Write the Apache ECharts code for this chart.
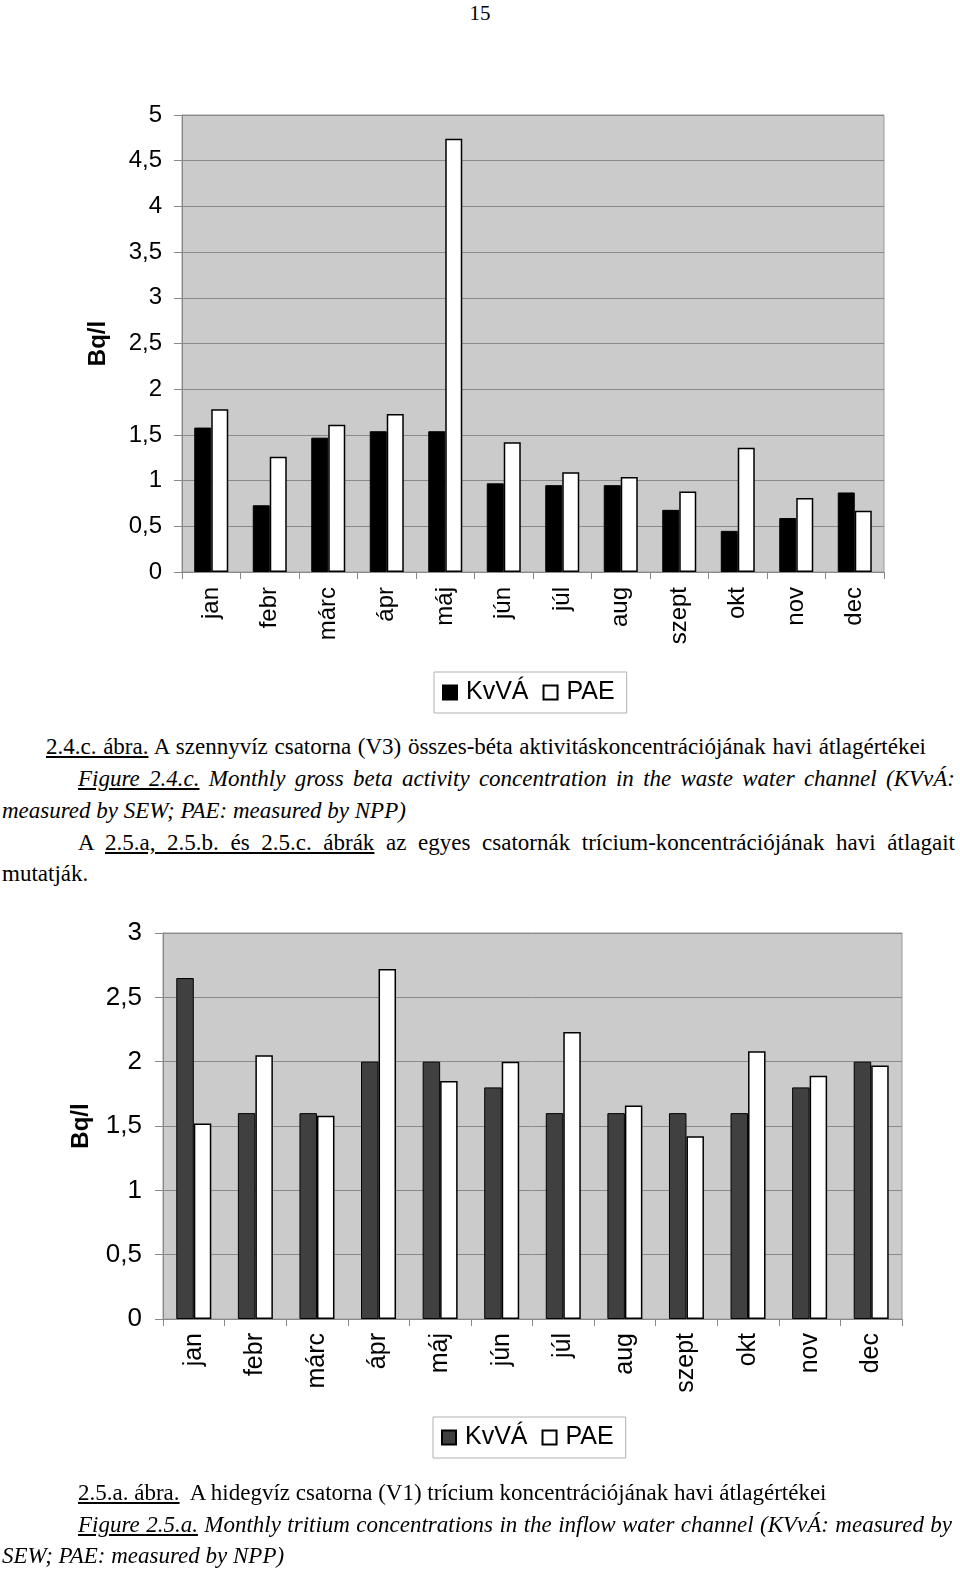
<!DOCTYPE html>
<html>
<head>
<meta charset="utf-8">
<script src="https://cdn.jsdelivr.net/npm/echarts@6/dist/echarts.min.js"></script>
<style>
  html, body { margin: 0; padding: 0; background: #fff; }
  #page { position: relative; width: 960px; height: 1572px; overflow: hidden; }
  .chart { position: absolute; left: 0; width: 960px; }
  .t { position: absolute; font-family: "Liberation Serif", "Times New Roman", serif; font-size: 23px; line-height: 32px; color: #000; white-space: nowrap; }
  .j { white-space: normal; text-align: justify; text-align-last: justify; }
  .i { font-style: italic; }
  u { text-decoration: underline; }
</style>
</head>
<body>
<div id="page">
  <div class="t" style="left:0;width:960px;top:-3px;text-align:center;font-size:21px;">15</div>
  <div id="c1" class="chart" style="top:0;height:730px;"></div>

  <div class="t j" style="left:46px;width:880px;top:731px;"><u>2.4.c. ábra.</u> A szennyvíz csatorna (V3) összes-béta aktivitáskoncentrációjának havi átlagértékei</div>
  <div class="t j i" style="left:78px;width:877px;top:763px;"><u>Figure 2.4.c.</u> Monthly gross beta activity concentration in the waste water channel (KVvÁ:</div>
  <div class="t i" style="left:2px;top:795px;">measured by SEW; PAE: measured by NPP)</div>
  <div class="t j" style="left:78px;width:877px;top:827px;">A <u>2.5.a, 2.5.b. és 2.5.c. ábrák</u> az egyes csatornák trícium-koncentrációjának havi átlagait</div>
  <div class="t" style="left:2px;top:858px;">mutatják.</div>

  <div id="c2" class="chart" style="top:890px;height:590px;"></div>

  <div class="t" style="left:78px;top:1477px;"><u>2.5.a. ábra.</u>&nbsp; A hidegvíz csatorna (V1) trícium koncentrációjának havi átlagértékei</div>
  <div class="t j i" style="left:78px;width:874px;top:1509px;"><u>Figure 2.5.a.</u> Monthly tritium concentrations in the inflow water channel (KVvÁ: measured by</div>
  <div class="t i" style="left:2px;top:1540px;">SEW; PAE: measured by NPP)</div>
</div>
<script>
// ---- data ----
const months = ['jan','febr','márc','ápr','máj','jún','júl','aug','szept','okt','nov','dec'];
const seriesNames = ['KvVÁ','PAE'];
// Figure 2.4.c: gross beta (Bq/l)
const betaKvVA = [1.58, 0.73, 1.47, 1.54, 1.54, 0.97, 0.95, 0.95, 0.68, 0.45, 0.59, 0.87];
const betaPAE  = [1.78, 1.26, 1.61, 1.73, 4.74, 1.42, 1.09, 1.04, 0.88, 1.36, 0.81, 0.67];
// Figure 2.5.a: tritium (Bq/l)
const tritKvVA = [2.65, 1.60, 1.60, 2.00, 2.00, 1.80, 1.60, 1.60, 1.60, 1.60, 1.80, 2.00];
const tritPAE  = [1.52, 2.05, 1.58, 2.72, 1.85, 2.00, 2.23, 1.66, 1.42, 2.08, 1.89, 1.97];
const yTicks1 = ['0','0,5','1','1,5','2','2,5','3','3,5','4','4,5','5'];
const yTicks2 = ['0','0,5','1','1,5','2','2,5','3'];
const yUnit = 'Bq/l';

function build(cfg) {
  const step = 0.5;
  return {
    animation: false,
    textStyle: { fontFamily: 'Liberation Sans, Arial, sans-serif' },
    grid: {
      left: cfg.left, right: cfg.right, top: cfg.top, height: cfg.height,
      show: true, backgroundColor: '#cbcbcb', borderColor: '#9a9a9a', borderWidth: 1
    },
    legend: {
      left: cfg.legLeft, top: cfg.legTop,
      orient: 'horizontal',
      data: seriesNames,
      icon: 'rect', itemWidth: 14, itemHeight: 14, itemGap: 14,
      padding: [8, 12, 8, 8],
      borderColor: '#b0b0b0', borderWidth: 1, backgroundColor: '#fff',
      textStyle: { fontSize: 25, color: '#000', padding: [0, 0, 0, 4], fontFamily: 'Liberation Sans, Arial, sans-serif' }
    },
    xAxis: {
      type: 'category', data: months,
      axisLine: { lineStyle: { color: '#888', width: 1 } },
      axisTick: { show: true, length: 7, lineStyle: { color: '#888' } },
      axisLabel: { rotate: 90, fontSize: cfg.xFont, color: '#000', margin: cfg.xMargin, interval: 0 },
      splitLine: { show: false }
    },
    yAxis: {
      type: 'value', min: 0, max: cfg.max, interval: step,
      name: yUnit, nameLocation: 'middle', nameGap: cfg.nameGap, nameRotate: 90,
      nameTextStyle: { fontSize: 24, fontWeight: 'bold', color: '#000' },
      axisLine: { show: true, lineStyle: { color: '#888' } },
      axisTick: { show: true, inside: false, length: 8, lineStyle: { color: '#888' } },
      axisLabel: {
        fontSize: cfg.yFont, color: '#000', margin: cfg.yMargin,
        formatter: v => cfg.ticks[Math.round(v / step)]
      },
      splitLine: { show: true, lineStyle: { color: '#8a8a8a', width: 1 } }
    },
    series: [
      { name: seriesNames[0], type: 'bar', data: cfg.a, barWidth: cfg.barW, barGap: '0%',
        itemStyle: { color: cfg.aColor, borderColor: '#000', borderWidth: 1 } },
      { name: seriesNames[1], type: 'bar', data: cfg.b, barWidth: cfg.barW, barGap: '0%',
        itemStyle: { color: '#fff', borderColor: '#000', borderWidth: 1.5 } }
    ]
  };
}

const c1 = echarts.init(document.getElementById('c1'));
c1.setOption(build({
  left: 182, right: 76, top: 115, height: 457, max: 5, ticks: yTicks1,
  a: betaKvVA, b: betaPAE, aColor: '#000', barW: 17,
  xFont: 24, yFont: 24, xMargin: 15, yMargin: 20, nameGap: 72,
  legLeft: 434, legTop: 672
}));

const c2 = echarts.init(document.getElementById('c2'));
c2.setOption(build({
  left: 163, right: 58, top: 43, height: 386, max: 3, ticks: yTicks2,
  a: tritKvVA, b: tritPAE, aColor: '#404040', barW: 17.5,
  xFont: 25, yFont: 26, xMargin: 14, yMargin: 21, nameGap: 70,
  legLeft: 433, legTop: 527
}));
</script>
</body>
</html>
